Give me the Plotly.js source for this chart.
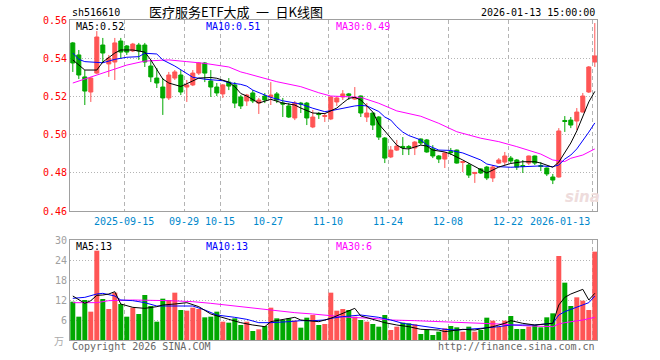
<!DOCTYPE html>
<html><head><meta charset="utf-8">
<script src="https://cdn.plot.ly/plotly-3.0.1.min.js"></script>
<style>html,body{margin:0;padding:0;background:#fff}#chart{width:660px;height:360px}</style>
</head><body><div id="chart"></div>
<script>
// ---- data ----
const openP = [0.5480,0.5417,0.5302,0.5223,0.5322,0.5469,0.5370,0.5380,0.5490,0.5464,
0.5438,0.5469,0.5469,0.5359,0.5296,0.5249,0.5192,0.5296,0.5312,0.5249,
0.5260,0.5322,0.5375,0.5281,0.5249,0.5213,0.5275,0.5260,0.5197,0.5176,
0.5218,0.5165,0.5202,0.5197,0.5213,0.5165,0.5150,0.5087,0.5165,0.5165,
0.5040,0.5110,0.5095,0.5082,0.5171,0.5197,0.5213,0.5186,0.5202,0.5092,
0.5113,0.5092,0.4982,0.4883,0.4919,0.4938,0.4938,0.4930,0.4977,0.4972,
0.4925,0.4888,0.4872,0.4911,0.4919,0.4854,0.4841,0.4796,0.4820,0.4830,
0.4773,0.4851,0.4856,0.4877,0.4867,0.4838,0.4851,0.4888,0.4838,0.4825,
0.4778,0.4778,0.5074,0.5076,0.5071,0.5118,0.5223,0.5380];
const highP = [0.5485,0.5443,0.5338,0.5302,0.5542,0.5506,0.5417,0.5506,0.5506,0.5469,
0.5480,0.5480,0.5480,0.5391,0.5349,0.5296,0.5328,0.5338,0.5338,0.5286,
0.5338,0.5380,0.5380,0.5338,0.5270,0.5265,0.5296,0.5275,0.5207,0.5213,
0.5233,0.5192,0.5218,0.5275,0.5223,0.5192,0.5165,0.5176,0.5171,0.5171,
0.5129,0.5118,0.5113,0.5202,0.5202,0.5233,0.5218,0.5249,0.5205,0.5165,
0.5113,0.5097,0.4987,0.4940,0.4972,0.4987,0.4945,0.4966,0.4980,0.4977,
0.4945,0.4893,0.4909,0.4930,0.4922,0.4862,0.4851,0.4804,0.4825,0.4836,
0.4841,0.4877,0.4909,0.4888,0.4872,0.4867,0.4890,0.4890,0.4856,0.4828,
0.4794,0.5034,0.5097,0.5092,0.5139,0.5218,0.5359,0.5584];
const lowP = [0.5328,0.5291,0.5155,0.5171,0.5317,0.5375,0.5302,0.5286,0.5401,0.5417,
0.5432,0.5391,0.5354,0.5275,0.5244,0.5103,0.5181,0.5286,0.5207,0.5171,
0.5254,0.5312,0.5275,0.5197,0.5202,0.5192,0.5233,0.5139,0.5134,0.5150,
0.5165,0.5108,0.5165,0.5155,0.5165,0.5092,0.5087,0.5076,0.5113,0.5050,
0.5034,0.5082,0.5066,0.5076,0.5150,0.5181,0.5181,0.5181,0.5092,0.5066,
0.5024,0.4972,0.4851,0.4877,0.4914,0.4893,0.4893,0.4893,0.4945,0.4905,
0.4877,0.4851,0.4825,0.4893,0.4848,0.4804,0.4773,0.4747,0.4794,0.4762,
0.4752,0.4846,0.4841,0.4851,0.4815,0.4799,0.4841,0.4841,0.4809,0.4783,
0.4741,0.4775,0.5014,0.5034,0.5024,0.5116,0.5218,0.5354];
const closeP = [0.5375,0.5312,0.5228,0.5296,0.5511,0.5427,0.5401,0.5480,0.5432,0.5432,
0.5474,0.5438,0.5380,0.5302,0.5270,0.5192,0.5312,0.5328,0.5223,0.5260,
0.5322,0.5375,0.5322,0.5249,0.5218,0.5260,0.5254,0.5165,0.5150,0.5207,
0.5176,0.5181,0.5181,0.5207,0.5181,0.5160,0.5092,0.5165,0.5160,0.5087,
0.5092,0.5105,0.5100,0.5197,0.5192,0.5213,0.5205,0.5194,0.5113,0.5113,
0.5050,0.4987,0.4877,0.4919,0.4940,0.4932,0.4932,0.4961,0.4956,0.4909,
0.4888,0.4872,0.4904,0.4906,0.4851,0.4859,0.4788,0.4802,0.4799,0.4773,
0.4830,0.4867,0.4888,0.4862,0.4830,0.4833,0.4888,0.4851,0.4833,0.4794,
0.4762,0.5019,0.5069,0.5050,0.5118,0.5202,0.5354,0.5412];
const volume = [11.5,7.0,12.0,8.5,26.8,12.3,9.3,14.2,10.8,7.0,
9.7,7.8,13.5,10.2,5.5,12.4,12.0,14.2,9.0,8.8,
9.7,9.3,6.8,7.0,8.5,5.5,5.2,6.5,4.5,5.5,
2.7,3.2,4.2,9.7,6.5,6.0,6.5,5.8,3.7,6.7,
7.5,4.5,4.8,14.2,8.8,9.3,9.0,7.0,6.0,5.5,
4.8,4.0,7.5,3.0,4.0,5.2,5.0,4.7,1.8,3.0,
1.5,2.5,3.5,4.2,3.8,2.5,4.0,2.5,3.0,6.7,
5.8,4.0,5.8,7.2,3.3,3.3,4.0,4.5,3.8,6.8,
8.0,25.2,17.2,10.2,12.8,11.8,9.0,26.5];

// moving-average lines (candle index, value)
const ma5Idx = [0,2,4,5,7,8,10,12,13,14,15,16,18,20,21,23,24,26,27,28,29,31,32,33,35,37,38,40,42,44,45,46,47,48,50,51,52,53,54,55,56,57,58,59,60,62,63,65,67,68,69,71,73,75,77,78,80,81,82,83,84,85,86,87];
const ma5Val = [0.5391,0.5338,0.5338,0.5380,0.5427,0.5443,0.5443,0.5432,0.5391,0.5338,0.5291,0.5270,0.5252,0.5281,0.5296,0.5299,0.5295,0.5275,0.5251,0.5215,0.5202,0.5165,0.5177,0.5185,0.5165,0.5155,0.5139,0.5113,0.5110,0.5139,0.5165,0.5190,0.5195,0.5181,0.5118,0.5055,0.5019,0.4980,0.4945,0.4927,0.4925,0.4935,0.4945,0.4940,0.4919,0.4909,0.4898,0.4867,0.4833,0.4815,0.4799,0.4830,0.4849,0.4858,0.4858,0.4851,0.4829,0.4856,0.4904,0.4956,0.5019,0.5092,0.5171,0.5226];
const ma10Idx = [0,1,2,4,5,7,9,11,12,14,15,17,19,20,22,25,26,28,29,30,32,33,35,37,38,40,42,43,45,47,48,49,51,52,53,54,55,56,58,59,61,63,65,66,68,69,71,73,75,78,80,81,82,83,84,85,86,87];
const ma10Val = [0.5427,0.5394,0.5382,0.5376,0.5376,0.5394,0.5405,0.5408,0.5426,0.5422,0.5391,0.5359,0.5322,0.5300,0.5290,0.5282,0.5272,0.5263,0.5254,0.5233,0.5207,0.5195,0.5177,0.5164,0.5160,0.5138,0.5120,0.5125,0.5138,0.5150,0.5153,0.5150,0.5121,0.5092,0.5076,0.5041,0.5013,0.4995,0.4972,0.4945,0.4919,0.4917,0.4904,0.4893,0.4867,0.4846,0.4832,0.4829,0.4832,0.4836,0.4832,0.4841,0.4872,0.4893,0.4925,0.4966,0.5013,0.5061];
const ma30Idx = [0,2,4,6,9,12,16,19,22,26,28,29,31,34,38,41,43,46,48,51,54,58,61,64,68,71,74,78,80,82,83,85,87];
const ma30Val = [0.5270,0.5291,0.5312,0.5333,0.5364,0.5385,0.5391,0.5382,0.5373,0.5354,0.5328,0.5320,0.5303,0.5277,0.5251,0.5219,0.5202,0.5198,0.5195,0.5164,0.5124,0.5096,0.5059,0.5015,0.4981,0.4963,0.4937,0.4898,0.4867,0.4859,0.4876,0.4893,0.4925];

const vma5Idx = [0,2,3,4,5,6,7,8,10,12,14,15,17,19,21,23,26,28,30,32,33,35,37,38,40,41,43,45,47,48,50,52,54,56,58,61,62,65,67,70,72,73,75,77,80,81,82,83,85,86,87];
const vma5Val = [13.2,11.0,11.8,13.4,13.5,13.8,14.5,10.8,9.8,9.5,10.0,10.5,10.8,11.2,10.0,7.8,6.2,5.2,4.5,4.0,5.5,6.2,6.8,6.0,5.7,5.5,6.5,8.0,9.5,7.2,6.2,5.2,4.5,4.0,3.2,3.0,2.5,3.2,3.0,4.0,5.0,5.8,5.0,4.5,5.0,10.5,12.8,13.8,15.2,12.0,14.0];
const vma10Idx = [0,2,4,5,7,8,10,12,14,16,18,20,22,24,27,29,31,33,36,38,40,42,43,45,48,51,53,55,57,60,62,64,66,68,71,73,75,77,80,81,82,83,85,86,87];
const vma10Val = [12.5,12.8,13.8,14.0,13.2,12.0,11.8,11.2,10.2,10.2,10.2,10.2,9.0,7.5,6.8,6.2,5.2,5.2,5.5,5.8,5.8,6.0,6.5,7.0,7.5,6.8,6.0,5.0,4.5,3.8,3.2,3.0,3.2,3.5,4.0,4.5,4.5,4.5,5.0,7.5,8.5,9.2,10.5,11.2,13.2];
const vma30Idx = [0,4,6,10,16,20,23,27,30,33,37,40,43,46,50,53,57,62,66,71,75,80,81,82,85,87];
const vma30Val = [11.2,11.2,11.8,12.0,11.8,11.5,11.0,10.2,9.5,8.8,8.2,7.8,7.2,6.8,6.5,6.0,5.8,5.5,5.2,4.8,4.3,4.0,4.8,5.2,6.0,6.8];

const tickIdx = [9,19,25,33,43,53,63,73,87];
const tickText = ['2025-09-15','09-29','10-15','10-27','11-10','11-24','12-08','12-22','2026-01-13'];
const priceTicks = [0.46,0.48,0.50,0.52,0.54,0.56];
const volTicks = [6,12,18,24,30];

// ---- drawing ----
const RED = '#ff5555', GREEN = '#00a800';
const MONO = 'DejaVu Sans Mono';
const idx = openP.map((_, i) => i);
const gridX = tickIdx.map(i => i - 0.4167);
const volColors = idx.map(i => closeP[i] > openP[i] ? RED : GREEN);

const L = 70, R = 597, T = 20, B = 340;
const px = x => (x - L) / (R - L);
const py = y => (B - y) / (B - T);

const traces = [
  {type:'candlestick', x: idx, open: openP, high: highP, low: lowP, close: closeP,
   xaxis:'x', yaxis:'y', hoverinfo:'skip', whiskerwidth:0,
   increasing:{line:{color:RED, width:1}, fillcolor:RED},
   decreasing:{line:{color:GREEN, width:1}, fillcolor:GREEN}},
  {type:'scatter', mode:'lines', x: ma30Idx, y: ma30Val, xaxis:'x', yaxis:'y', line:{color:'#ff00ff', width:1}, hoverinfo:'skip'},
  {type:'scatter', mode:'lines', x: ma10Idx, y: ma10Val, xaxis:'x', yaxis:'y', line:{color:'#0000ff', width:1}, hoverinfo:'skip'},
  {type:'scatter', mode:'lines', x: ma5Idx, y: ma5Val, xaxis:'x', yaxis:'y', line:{color:'#000000', width:1}, hoverinfo:'skip'},
  {type:'bar', x: idx, y: volume, xaxis:'x2', yaxis:'y2', marker:{color: volColors, line:{width:0}}, hoverinfo:'skip'},
  {type:'scatter', mode:'lines', x: vma30Idx, y: vma30Val, xaxis:'x2', yaxis:'y2', line:{color:'#ff00ff', width:1}, hoverinfo:'skip'},
  {type:'scatter', mode:'lines', x: vma10Idx, y: vma10Val, xaxis:'x2', yaxis:'y2', line:{color:'#0000ff', width:1}, hoverinfo:'skip'},
  {type:'scatter', mode:'lines', x: vma5Idx, y: vma5Val, xaxis:'x2', yaxis:'y2', line:{color:'#000000', width:1}, hoverinfo:'skip'}
];

const xCommon = {range:[-0.4667, 87.367], tickvals: gridX, showticklabels:false, ticks:'',
  showgrid:true, gridcolor:'#b4b4b4', griddash:'4px,3px', gridwidth:1,
  showline:true, mirror:true, linecolor:'#a0a0a0', linewidth:1, zeroline:false, fixedrange:true};

function txt(text, x, y, color, size, anchor, family) {
  return {text: text, x: px(x), y: py(y), xref:'paper', yref:'paper', showarrow:false,
    xanchor: anchor || 'left', yanchor:'middle', font:{family: family || MONO, size: size || 10, color: color}};
}

const annotations = [
  txt('sh516610', 70, 12.5, '#000', 10),
  txt('医疗服务ETF大成\u2002一\u2002日K线图', 236, 11.5, '#000', 13, 'center', 'Noto Sans CJK SC'),
  txt('2026-01-13 15:00:00', 597, 12.5, '#000', 10, 'right'),
  txt('MA5:0.52', 74, 26, '#000', 10),
  txt('MA10:0.51', 204, 26, '#0000ff', 10),
  txt('MA30:0.49', 334, 26, '#ff00ff', 10),
  txt('MA5:13', 74, 246.5, '#000', 10),
  txt('MA10:13', 204, 246.5, '#0000ff', 10),
  txt('MA30:6', 334, 246.5, '#ff00ff', 10),
  txt('万', 66, 340, '#aaa', 10, 'right', 'Noto Sans CJK SC'),
  txt('Copyright 2026 SINA.COM', 70, 346, '#666', 10),
  txt('http://finance.sina.com.cn', 597, 346, '#666', 10, 'right'),
  {text:'<b><i>sina</i></b>', x: px(582), y: py(197), xref:'paper', yref:'paper', showarrow:false,
   xanchor:'center', yanchor:'middle', font:{family:'DejaVu Sans', size:15, color:'#eedcdc'}}
];
tickIdx.forEach((t, k) => {
  annotations.push({text: tickText[k], x: gridX[k], y: py(221), xref:'x', yref:'paper', showarrow:false,
    xanchor: k === tickIdx.length - 1 ? 'right' : 'center', yanchor:'middle',
    font:{family: MONO, size:10, color:'#0088cc'}});
});

const layout = {
  width:660, height:360, margin:{l:70, r:63, t:20, b:20},
  paper_bgcolor:'#ffffff', plot_bgcolor:'#ffffff', showlegend:false,
  boxgap:0.33, boxgroupgap:0, bargap:0.17,
  xaxis: Object.assign({anchor:'y', rangeslider:{visible:false}}, xCommon),
  xaxis2: Object.assign({anchor:'y2', matches:'x'}, xCommon),
  yaxis: {domain:[0.403125, 1], range:[0.46, 0.56], tickvals: priceTicks, tickformat:'.2f',
    tickfont:{family: MONO, size:10, color:'#ff0000'}, ticks:'',
    showgrid:true, gridcolor:'#b4b4b4', griddash:'1px,2px', showline:true, mirror:true,
    linecolor:'#a0a0a0', zeroline:false, fixedrange:true},
  yaxis2: {domain:[0, 0.3125], range:[0, 30], tickvals: volTicks,
    tickfont:{family: MONO, size:10, color:'#a0a0a0'}, ticks:'',
    showgrid:true, gridcolor:'#b4b4b4', griddash:'1px,2px', showline:true, mirror:true,
    linecolor:'#a0a0a0', zeroline:false, fixedrange:true},
  annotations: annotations
};

Plotly.newPlot('chart', traces, layout, {staticPlot:true, displayModeBar:false});
</script>
</body></html>
